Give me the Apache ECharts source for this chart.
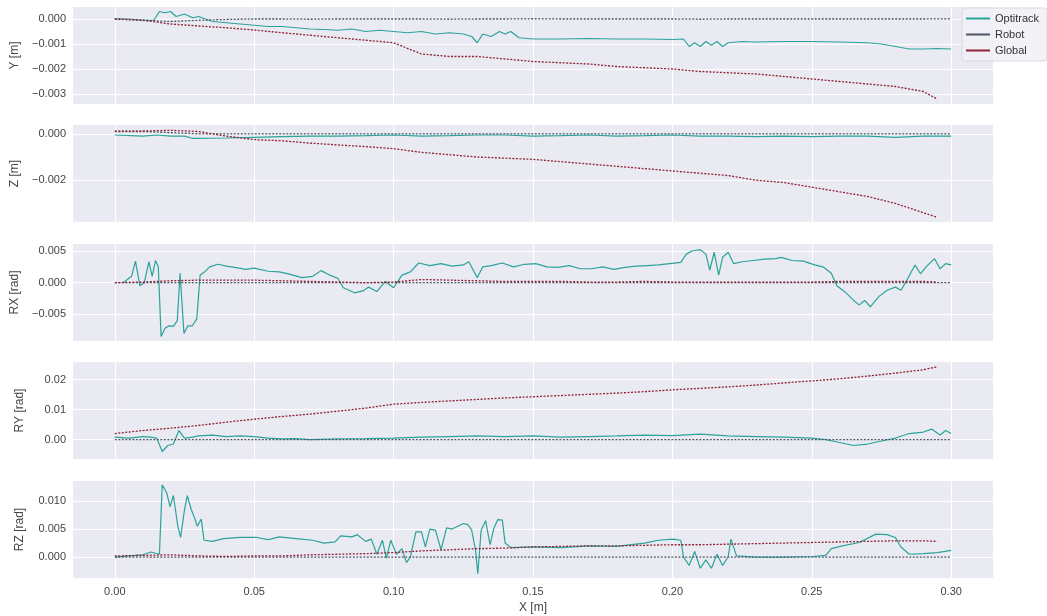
<!DOCTYPE html>
<html><head><meta charset="utf-8">
<script src="https://cdn.jsdelivr.net/npm/echarts@6/dist/echarts.min.js"></script>
<style>html,body{margin:0;padding:0;background:#fff}#c{width:1047px;height:616px}</style>
</head><body><div id="c"></div><script>
// ---------- DATA ----------
const SERIES_NAMES = ['Optitrack', 'Robot', 'Global'];
const PANEL_LABELS = ['Y [m]', 'Z [m]', 'RX [rad]', 'RY [rad]', 'RZ [rad]'];
const X_TICKS = [0, 0.05, 0.1, 0.15, 0.2, 0.25, 0.3];
const Y_TICKS = [
  [0, -0.001, -0.002, -0.003],
  [0, -0.002],
  [0.005, 0, -0.005],
  [0.02, 0.01, 0],
  [0.01, 0.005, 0]
];
const Y_DECIMALS = [3, 3, 3, 2, 3];

const X_ROBOT = [0,0.01,0.02,0.03,0.04,0.05,0.06,0.07,0.08,0.09,0.10,0.11,0.12,0.13,0.14,0.15,0.16,0.17,0.18,0.19,0.20,0.21,0.22,0.23,0.24,0.25,0.26,0.27,0.28,0.29,0.30];
const X_GLOB  = [0,0.01,0.02,0.03,0.04,0.05,0.06,0.07,0.08,0.09,0.10,0.11,0.12,0.13,0.14,0.15,0.16,0.17,0.18,0.19,0.20,0.21,0.22,0.23,0.24,0.25,0.26,0.27,0.28,0.29,0.295];

const ROBOT_Y  = [0,-0.00005,-0.0001,-0.00005,-0.00002,0,0,-0.00001,0,0,0,0,-0.00001,0,0,0.00001,0,0,0,0,0,-0.00001,0,0,0,0,0,0,0,0,0.00001];
const ROBOT_Z  = [0.0001,0.0001,0.00005,0,0,0,0,0,0,0,0,0,0,0,0,0,0,0,0,0,0,0,0,0,0,0,0,0,0,0,0];
const ROBOT_RX = [0,0,0,0,0,0,0,0,0,0,0,0,0,0,0,0,0,0,0,0,0,0,0,0,0,0,0,0,0,0,0];
const ROBOT_RY = [0,0,0,0,0,0,0,0,0,0,0,0,0,0,0,0,0,0,0,0,0,0,0,0,0,0,0,0,0,0,0];
const ROBOT_RZ = [0,0,0,0,0,0,0,0,0,0,0,0,0,0,0,0,0,0,0,0,0,0,0,0,0,0,0,0,0,0,0];

const GLOBAL_Y  = [0,-0.00005,-0.0002,-0.00028,-0.00035,-0.00044,-0.00055,-0.00065,-0.00075,-0.00085,-0.00095,-0.0014,-0.0015,-0.0015,-0.0016,-0.0017,-0.00175,-0.0018,-0.0019,-0.00195,-0.002,-0.0021,-0.00215,-0.0022,-0.0023,-0.0024,-0.0025,-0.0026,-0.0027,-0.0029,-0.0032];
const GLOBAL_Z  = [0.00012,0.00012,0.00015,0.0001,-0.0001,-0.00025,-0.0003,-0.0004,-0.00048,-0.00055,-0.00064,-0.0008,-0.0009,-0.001,-0.00105,-0.0011,-0.0012,-0.0013,-0.0014,-0.0015,-0.0016,-0.0017,-0.0018,-0.002,-0.0021,-0.0023,-0.0025,-0.0027,-0.003,-0.0034,-0.0036];
const GLOBAL_RX = [0,0.0001,0.0003,0.0004,0.0004,0.0004,0.0003,0.0002,0.0001,0,0.0001,0.0005,0.0004,0.0003,0.0002,0.0002,0.0002,0.0001,0.0001,0.0002,0.0001,0.0001,0.0001,0.0001,0.0001,0.0001,0.0002,0.0002,0.0002,0.0002,0.0001];
const GLOBAL_RY = [0.002,0.003,0.0038,0.0047,0.0058,0.0068,0.0077,0.0085,0.0095,0.0105,0.0118,0.0124,0.0129,0.0134,0.0139,0.0143,0.0147,0.0151,0.0155,0.016,0.0166,0.0171,0.0176,0.0182,0.0189,0.0196,0.0203,0.0212,0.0222,0.0233,0.0243];
const GLOBAL_RZ = [0.0002,0.0003,0.0004,0.0002,0.0001,0.0002,0.0002,0.0004,0.0005,0.0006,0.0008,0.0011,0.0013,0.0015,0.0016,0.0018,0.0019,0.002,0.002,0.0021,0.0022,0.0022,0.0023,0.0024,0.0025,0.0026,0.0027,0.0028,0.0029,0.0029,0.0028];

const OPTI_Y = [[0,0],[0.005,0],[0.01,-0.00005],[0.014,-0.00005],[0.016,0.0003],[0.018,0.00025],[0.02,0.0003],[0.022,0.0001],[0.025,0.0002],[0.028,0.00005],[0.03,0.0001],[0.035,-0.0001],[0.04,-0.00015],[0.045,-0.0002],[0.05,-0.00025],[0.055,-0.0003],[0.06,-0.0003],[0.065,-0.00035],[0.07,-0.0004],[0.075,-0.00042],[0.08,-0.00045],[0.085,-0.0004],[0.09,-0.0005],[0.095,-0.00045],[0.1,-0.0005],[0.105,-0.00055],[0.11,-0.0005],[0.115,-0.0006],[0.12,-0.00055],[0.125,-0.0006],[0.128,-0.0007],[0.13,-0.00095],[0.132,-0.0006],[0.135,-0.0007],[0.138,-0.0005],[0.14,-0.0006],[0.142,-0.0005],[0.145,-0.00075],[0.15,-0.0008],[0.16,-0.0008],[0.17,-0.00078],[0.18,-0.0008],[0.19,-0.0008],[0.2,-0.00082],[0.204,-0.0008],[0.206,-0.0011],[0.208,-0.00095],[0.21,-0.0011],[0.212,-0.0009],[0.214,-0.00105],[0.216,-0.0009],[0.218,-0.0011],[0.22,-0.00095],[0.225,-0.0009],[0.23,-0.00092],[0.24,-0.0009],[0.25,-0.0009],[0.26,-0.00092],[0.27,-0.00095],[0.275,-0.001],[0.28,-0.0011],[0.285,-0.0012],[0.29,-0.0012],[0.295,-0.00118],[0.3,-0.0012]];
const OPTI_Z = [[0,-0.00005],[0.01,-0.0001],[0.015,-0.00005],[0.02,-0.0001],[0.025,-0.0001],[0.028,-0.0002],[0.03,-0.0002],[0.04,-0.00018],[0.05,-0.00015],[0.06,-0.00012],[0.07,-0.0001],[0.08,-0.0001],[0.09,-0.00008],[0.1,-0.00005],[0.11,-0.0001],[0.12,-0.00008],[0.13,-0.00005],[0.14,-0.00005],[0.15,-0.0001],[0.16,-0.00008],[0.17,-0.00005],[0.18,-0.0001],[0.19,-0.00008],[0.2,-0.00005],[0.21,-0.0001],[0.22,-0.0001],[0.23,-0.00012],[0.24,-0.0001],[0.25,-0.00012],[0.26,-0.0001],[0.27,-0.0001],[0.28,-0.00015],[0.29,-0.0001],[0.3,-0.0001]];
const OPTI_RX = [[0.003,0],[0.006,0.001],[0.0074,0.0034],[0.009,-0.0005],[0.0106,0],[0.0122,0.0033],[0.0134,0.001],[0.0146,0.0035],[0.0156,0.0025],[0.0166,-0.0085],[0.018,-0.0072],[0.0194,-0.0068],[0.021,-0.0069],[0.0224,-0.006],[0.0234,0.0015],[0.0248,-0.008],[0.0262,-0.0068],[0.0278,-0.0068],[0.0294,-0.0057],[0.0306,0.0012],[0.0322,0.0017],[0.034,0.0025],[0.037,0.0029],[0.04,0.0026],[0.043,0.0024],[0.047,0.0021],[0.05,0.0023],[0.055,0.0018],[0.059,0.0017],[0.063,0.0013],[0.067,0.0008],[0.071,0.001],[0.074,0.0019],[0.077,0.0012],[0.08,0.0007],[0.082,-0.0008],[0.086,-0.0016],[0.089,-0.0013],[0.091,-0.0007],[0.094,-0.0014],[0.097,0.0002],[0.1,-0.0008],[0.103,0.0012],[0.106,0.0017],[0.109,0.0031],[0.113,0.0027],[0.117,0.003],[0.121,0.0026],[0.125,0.0028],[0.127,0.0033],[0.13,0.0008],[0.132,0.0025],[0.135,0.0027],[0.139,0.0031],[0.143,0.0025],[0.147,0.0029],[0.151,0.003],[0.155,0.0025],[0.159,0.0024],[0.163,0.0027],[0.167,0.0022],[0.171,0.0022],[0.175,0.0025],[0.179,0.0021],[0.183,0.0024],[0.187,0.0026],[0.191,0.0027],[0.195,0.0028],[0.199,0.003],[0.203,0.0032],[0.205,0.0045],[0.207,0.005],[0.21,0.0052],[0.212,0.0045],[0.2134,0.002],[0.215,0.0048],[0.2166,0.0012],[0.218,0.004],[0.22,0.0048],[0.222,0.003],[0.225,0.0033],[0.229,0.0035],[0.233,0.0037],[0.237,0.0038],[0.239,0.004],[0.243,0.0035],[0.247,0.0034],[0.251,0.0028],[0.254,0.0025],[0.257,0.0015],[0.259,-0.0005],[0.262,-0.0015],[0.265,-0.0028],[0.267,-0.0035],[0.269,-0.0028],[0.271,-0.0038],[0.274,-0.0022],[0.277,-0.0012],[0.28,-0.0007],[0.282,-0.0012],[0.284,0.0003],[0.287,0.0028],[0.289,0.0014],[0.291,0.0025],[0.294,0.0038],[0.296,0.0022],[0.298,0.003],[0.3,0.0028]];
const OPTI_RY = [[0,0.0008],[0.005,0.0005],[0.01,0.001],[0.013,0.0008],[0.015,0.0005],[0.017,-0.004],[0.019,-0.002],[0.021,-0.0015],[0.023,0.003],[0.025,0.0005],[0.028,0.0008],[0.03,0.0012],[0.035,0.0015],[0.04,0.001],[0.045,0.0012],[0.05,0.001],[0.055,0.0005],[0.06,0.0002],[0.065,0.0003],[0.07,0],[0.08,0.0002],[0.09,0.0003],[0.1,0.0005],[0.11,0.0008],[0.12,0.001],[0.13,0.0012],[0.14,0.001],[0.15,0.0012],[0.16,0.0008],[0.17,0.001],[0.18,0.0012],[0.19,0.0015],[0.2,0.0013],[0.21,0.0018],[0.22,0.0012],[0.23,0.001],[0.24,0.0008],[0.25,0.0005],[0.255,0],[0.26,-0.001],[0.265,-0.002],[0.27,-0.0015],[0.275,-0.0005],[0.28,0.0005],[0.285,0.002],[0.29,0.0025],[0.293,0.0035],[0.296,0.0015],[0.298,0.003],[0.3,0.002]];
const OPTI_RZ = [[0,0],[0.005,0.0002],[0.01,0.0004],[0.013,0.0009],[0.016,0.0005],[0.017,0.0129],[0.0186,0.0115],[0.0198,0.009],[0.021,0.011],[0.0226,0.0055],[0.0236,0.0035],[0.025,0.0085],[0.026,0.011],[0.0274,0.0085],[0.0286,0.007],[0.0296,0.0055],[0.031,0.0068],[0.032,0.003],[0.035,0.0028],[0.039,0.0033],[0.045,0.0035],[0.051,0.0035],[0.055,0.0031],[0.059,0.0036],[0.065,0.0033],[0.071,0.003],[0.075,0.0025],[0.079,0.0027],[0.081,0.0038],[0.085,0.0036],[0.087,0.004],[0.09,0.0028],[0.092,0.0032],[0.094,0.0005],[0.096,0.003],[0.0974,-0.0002],[0.099,0.003],[0.101,0.0005],[0.103,0.0015],[0.1046,-0.001],[0.106,0],[0.108,0.0045],[0.11,0.0045],[0.1114,0.0018],[0.113,0.005],[0.115,0.0048],[0.117,0.0013],[0.119,0.0052],[0.121,0.005],[0.123,0.0055],[0.125,0.006],[0.1266,0.0058],[0.128,0.0048],[0.1294,0.0012],[0.1302,-0.003],[0.1314,0.0048],[0.133,0.0065],[0.1346,0.0022],[0.136,0.0052],[0.1374,0.0067],[0.139,0.0066],[0.14,0.0025],[0.142,0.0017],[0.15,0.0018],[0.16,0.0017],[0.17,0.002],[0.18,0.0019],[0.19,0.0025],[0.195,0.003],[0.2,0.0032],[0.203,0.003],[0.204,0],[0.206,-0.0015],[0.208,0.001],[0.21,-0.002],[0.212,-0.0005],[0.214,-0.002],[0.216,0.0005],[0.218,-0.0015],[0.22,0],[0.221,0.0032],[0.223,0.0002],[0.23,0],[0.24,0],[0.25,0.0001],[0.255,0.0003],[0.257,0.0015],[0.261,0.002],[0.267,0.0026],[0.273,0.0041],[0.277,0.004],[0.28,0.0035],[0.282,0.0018],[0.285,0.0005],[0.29,0.0006],[0.295,0.0008],[0.3,0.0012]];

const OPTI = [OPTI_Y, OPTI_Z, OPTI_RX, OPTI_RY, OPTI_RZ];
const ROBOT = [ROBOT_Y, ROBOT_Z, ROBOT_RX, ROBOT_RY, ROBOT_RZ];
const GLOBAL = [GLOBAL_Y, GLOBAL_Z, GLOBAL_RX, GLOBAL_RY, GLOBAL_RZ];

// ---------- LAYOUT / STYLE ----------
const Y_RANGE = [[-0.0034, 0.00048], [-0.0038, 0.00038], [-0.0092, 0.0061], [-0.0065, 0.0259], [-0.00375, 0.0136]];
const TOPS = [7, 125, 244, 362, 481];
const H = 97;
const COLORS = ['#2aa39b', '#4d5566', '#8e2236'];
const FONT = 'Liberation Sans, Arial, sans-serif';

function fmt(d) {
  return v => (v < -1e-12 ? '\u2212' : '') + Math.abs(v).toFixed(d);
}
const zip = (xs, ys) => xs.map((x, i) => [x, ys[i]]);

const grids = [], xAxes = [], yAxes = [], series = [];
for (let i = 0; i < 5; i++) {
  grids.push({left: 73, width: 920, top: TOPS[i], height: H, show: true,
    backgroundColor: '#EAEAF2', borderWidth: 0});
  const last = i === 4;
  xAxes.push({type: 'value', gridIndex: i, min: -0.015, max: 0.315,
    axisLine: {show: false}, axisTick: {show: false, customValues: X_TICKS},
    axisLabel: {show: last, customValues: X_TICKS, formatter: fmt(2), color: '#444', fontSize: 11, fontFamily: FONT, margin: 8},
    splitLine: {show: true, lineStyle: {color: '#ffffff', width: 1}},
    name: last ? 'X [m]' : '', nameLocation: 'middle', nameGap: 24,
    nameTextStyle: {color: '#444', fontSize: 12, fontFamily: FONT}});
  yAxes.push({type: 'value', gridIndex: i, min: Y_RANGE[i][0], max: Y_RANGE[i][1],
    axisLine: {show: false}, axisTick: {show: false, customValues: Y_TICKS[i]},
    axisLabel: {customValues: Y_TICKS[i], formatter: fmt(Y_DECIMALS[i]), color: '#444', fontSize: 11, fontFamily: FONT, margin: 7},
    splitLine: {show: true, lineStyle: {color: '#ffffff', width: 1}},
    name: PANEL_LABELS[i], nameLocation: 'middle', nameGap: 47,
    nameTextStyle: {color: '#444', fontSize: 12, fontFamily: FONT}});
  series.push({name: SERIES_NAMES[0], type: 'line', xAxisIndex: i, yAxisIndex: i,
    data: OPTI[i], showSymbol: false, z: 2,
    lineStyle: {color: COLORS[0], width: 1.2}, itemStyle: {color: COLORS[0]}});
  series.push({name: SERIES_NAMES[1], type: 'line', xAxisIndex: i, yAxisIndex: i,
    data: zip(X_ROBOT, ROBOT[i]), showSymbol: false, z: 3,
    lineStyle: {color: COLORS[1], width: 1.3, type: [2, 1.5]}, itemStyle: {color: COLORS[1]}});
  series.push({name: SERIES_NAMES[2], type: 'line', xAxisIndex: i, yAxisIndex: i,
    data: zip(X_GLOB, GLOBAL[i]), showSymbol: false, z: 4,
    lineStyle: {color: COLORS[2], width: 1.3, type: [2, 1.5]}, itemStyle: {color: COLORS[2]}});
}

const chart = echarts.init(document.getElementById('c'), null, {renderer: 'canvas'});
chart.setOption({
  animation: false,
  backgroundColor: '#ffffff',
  grid: grids, xAxis: xAxes, yAxis: yAxes, series: series,
  legend: {data: SERIES_NAMES, orient: 'vertical', right: 0, top: 8,
    icon: 'rect', itemWidth: 24, itemHeight: 2, itemGap: 5,
    padding: [5, 8, 5, 4],
    backgroundColor: 'rgba(240,240,246,0.85)', borderColor: '#d8d8e0', borderWidth: 1, borderRadius: 3,
    textStyle: {color: '#333', fontSize: 11, fontFamily: FONT}}
});
</script></body></html>
